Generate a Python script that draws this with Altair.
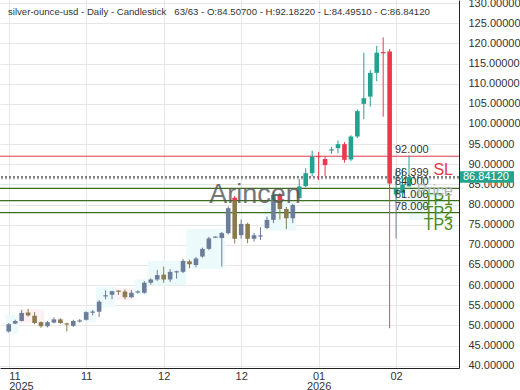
import json
import altair as alt
import numpy as np
import pandas as pd

# ---------------- data ----------------
opens = [48.5, 50.5, 51.1, 53.2, 52.4, 50.8, 49.8, 50.7, 51.5, 50.5,
         49.9, 51.0, 51.4, 53.2, 53.4, 57.2, 57.6, 58.6, 58.4, 57.0,
         58.2, 58.1, 60.6, 61.4, 62.6, 61.4, 63.2, 63.3, 65.9, 65.0,
         67.1, 69.0, 71.8, 71.7, 72.9, 81.7, 72.4, 75.2, 71.5, 72.1,
         74.2, 76.2, 82.4, 78.9, 76.6, 81.6, 84.6, 87.8, 92.0, 91.3,
         93.4, 94.0, 95.0, 91.2, 96.9, 105.0, 106.8, 112.7, 117.8, 118.0,
         82.5, 82.8, 84.507]
highs = [50.6, 51.4, 53.8, 54.1, 53.3, 51.0, 51.1, 52.0, 51.8, 50.7,
         51.4, 51.6, 53.5, 53.8, 56.3, 58.7, 58.6, 58.7, 58.9, 58.8,
         58.7, 61.0, 61.7, 63.8, 64.6, 64.0, 63.6, 66.5, 66.3, 67.0,
         69.3, 72.0, 72.1, 73.2, 79.5, 82.2, 76.3, 75.5, 73.0, 74.4,
         77.0, 83.2, 82.9, 79.4, 80.2, 86.3, 89.0, 93.4, 93.1, 92.0,
         94.3, 95.9, 95.5, 97.2, 103.6, 117.7, 113.4, 119.4, 121.5, 118.6,
         88.6, 89.0, 92.1822]
lows = [48.2, 50.3, 51.0, 52.2, 50.3, 49.4, 49.5, 50.5, 50.4, 48.5,
        49.6, 50.7, 51.2, 52.5, 52.1, 56.5, 56.5, 57.6, 56.5, 56.8,
        57.9, 57.9, 60.1, 61.0, 60.6, 60.8, 61.6, 63.0, 64.2, 64.4,
        66.8, 68.7, 71.7, 64.6, 72.6, 70.3, 71.5, 70.4, 70.8, 71.2,
        73.9, 75.4, 76.3, 73.9, 75.4, 81.2, 84.3, 87.0, 86.1, 87.0,
        92.6, 92.7, 90.4, 90.8, 96.5, 101.2, 104.3, 110.6, 101.8, 49.3,
        71.6, 81.8, 84.4951]
closes = [50.3, 51.1, 53.1, 52.5, 50.6, 49.8, 50.8, 51.5, 50.6, 50.2,
          51.1, 51.2, 53.3, 53.4, 55.9, 57.5, 58.5, 58.4, 57.0, 58.1,
          58.4, 60.6, 61.4, 62.5, 61.4, 63.3, 63.4, 66.0, 65.2, 66.6,
          69.0, 71.6, 72.0, 72.9, 79.1, 71.5, 75.2, 71.5, 72.4, 72.3,
          76.2, 82.4, 78.9, 76.6, 79.9, 84.5, 87.8, 91.9, 91.8, 89.8,
          93.7, 95.0, 91.1, 96.9, 103.2, 106.4, 112.7, 117.7, 117.6, 85.2,
          84.0, 85.0, 86.8412]

tick_idx = [0, 12, 24, 36, 48, 60]
tick_text = ["11\n2025", "11", "12", "12", "01\n2026", "02"]

# background trend zones
zone_start = [-0.5, 1.5, 11.5, 13.5, 16.5, 19.5, 21.5, 27.5, 39.5, 62.0]
zone_end = [1.5, 5.5, 13.5, 16.5, 19.5, 21.5, 27.5, 33.5, 44.5, 67.5]
zone_low = [48.0, 50.5, 50.8, 54.5, 56.3, 57.5, 60.0, 64.0, 73.5, 76.2]
zone_high = [52.5, 54.0, 54.0, 59.5, 59.2, 61.5, 66.0, 74.0, 80.5, 84.4]
zone_kind = ["zone_up", "zone_down", "zone_up", "zone_up", "zone_down",
             "zone_up", "zone_up", "zone_up", "zone_up", "zone_up"]

sl_level = 92.0
entry_level = 86.399
tp_levels = [84.0, 81.0, 78.0]
tp_names = ["TP1", "TP2", "TP3"]
MUTE_BELOW = 81.0
symbol = "silver-ounce-usd"

# ---------------- frames ----------------
n = len(opens)
df = pd.DataFrame({"i": range(n), "o": opens, "h": highs, "l": lows, "c": closes})
df["dir"] = np.where(df.c >= df.o, "up", "down")
df["btop"] = df[["o", "c"]].max(axis=1)
df["bbot"] = df[["o", "c"]].min(axis=1)
small = (df.btop - df.bbot) < 0.3
mid = (df.btop + df.bbot) / 2
df.loc[small, "btop"] = mid[small] + 0.15
df.loc[small, "bbot"] = mid[small] - 0.15


def split(lo_col, hi_col):
    rows = []
    for _, r in df.iterrows():
        lo, hi = r[lo_col], r[hi_col]
        if hi > MUTE_BELOW:
            rows.append({"i": r.i, "y1": max(lo, MUTE_BELOW), "y2": hi, "key": r.dir})
        if lo < MUTE_BELOW:
            rows.append({"i": r.i, "y1": lo, "y2": min(hi, MUTE_BELOW), "key": r.dir + "_m"})
    return pd.DataFrame(rows)


wicks = split("l", "h")
bodies = split("bbot", "btop")
zones = pd.DataFrame({"s": zone_start, "e": zone_end, "lo": zone_low,
                      "hi": zone_high, "key": zone_kind})

cscale = alt.Scale(
    domain=["up", "down", "up_m", "down_m", "zone_up", "zone_down"],
    range=["#22a38f", "#e83a4c", "#6c7d99", "#8a7a4c", "#ecfafb", "#fdf1f3"],
)
xscale = alt.Scale(domain=[-0.58, 68.97], nice=False, zero=False)
yscale = alt.Scale(domain=[39.43, 130.78], nice=False, zero=False)

label_expr = " : ".join(
    f"datum.value == {v} ? {json.dumps(t.split(chr(10)))}" for v, t in zip(tick_idx, tick_text)
) + " : ''"

FONT = "Liberation Sans"
xaxis = alt.Axis(values=tick_idx, labelExpr=label_expr, title=None, ticks=False,
                 labelPadding=2, labelFontSize=11, labelColor="#333", labelFont=FONT,
                 labelLineHeight=10, labelFlush=10, domainColor="#222",
                 gridColor="#e6e6e6", labelAngle=0)
yaxis = alt.Axis(values=list(range(40, 131, 5)), format=".5f", orient="right",
                 title=None, ticks=False, labelPadding=9, labelFontSize=11,
                 labelColor="#333", labelFont=FONT, domainColor="#222",
                 gridColor="#e6e6e6")

X = lambda f: alt.X(f, scale=xscale, axis=xaxis)
Y = lambda f: alt.Y(f, scale=yscale, axis=yaxis)
C = alt.Color("key:N", scale=cscale, legend=None)

zone_layer = alt.Chart(zones).mark_rect().encode(
    x=X("s:Q"), x2="e:Q", y=Y("lo:Q"), y2="hi:Q", color=C)

lv = lambda vals: pd.DataFrame({"v": vals})
sl_rule = alt.Chart(lv([sl_level])).mark_rule(color="#e0394a", strokeWidth=1).encode(y=Y("v:Q"))
tp_rule = alt.Chart(lv(tp_levels)).mark_rule(color="#3b6e1f", strokeWidth=1.2).encode(y=Y("v:Q"))
entry_rule = alt.Chart(lv([entry_level])).mark_rule(
    color="#999", strokeWidth=1, strokeDash=[2, 2]).encode(y=Y("v:Q"))
price_rule = alt.Chart(lv([closes[-1]])).mark_rule(
    color="#555", strokeWidth=1.5, strokeDash=[2, 2]).encode(y=Y("v:Q"))

wick_layer = alt.Chart(wicks).mark_rule(strokeWidth=1).encode(
    x=X("i:Q"), y=Y("y1:Q"), y2="y2:Q", color=C)
body_layer = alt.Chart(bodies).mark_bar(size=4.6).encode(
    x=X("i:Q"), y=Y("y1:Q"), y2="y2:Q", color=C)

all_levels = [sl_level, entry_level] + tp_levels
lvl_text = alt.Chart(pd.DataFrame({"v": all_levels})).transform_calculate(
    t="format(datum.v, '.3f')"
).mark_text(align="left", baseline="middle", dy=-6, fontSize=11, color="#333", font=FONT).encode(
    x=alt.value(395), y=Y("v:Q"), text="t:N")

sl_text = alt.Chart(pd.DataFrame({"v": [sl_level], "t": ["SL"]})).mark_text(
    align="right", baseline="middle", dy=14, fontSize=16, color="#e0394a", font=FONT
).encode(x=alt.value(453), y=Y("v:Q"), text="t:N")
tp_text = alt.Chart(pd.DataFrame({"v": tp_levels, "t": tp_names})).mark_text(
    align="right", baseline="middle", dy=12, fontSize=16, color="#4a8a22", font=FONT
).encode(x=alt.value(453), y=Y("v:Q"), text="t:N")
price_text = alt.Chart(pd.DataFrame({"v": [closes[-1]], "t": ["Price"]})).mark_text(
    align="right", baseline="middle", dy=14, fontSize=16, color="#b5b5b5", font=FONT
).encode(x=alt.value(453), y=Y("v:Q"), text="t:N")

watermark = alt.Chart(pd.DataFrame({"t": ["Arincen"]})).mark_text(
    align="center", baseline="alphabetic", fontSize=27, color="#555", opacity=0.8, font=FONT
).encode(x=alt.value(255), y=alt.value(203), text="t:N")

title_str = (f"{symbol} - Daily - Candlestick\u00a0\u00a0\u00a0{n}/{n} - O:{opens[-1]:.5f} - "
             f"H:{highs[-1]:.5f} - L:{lows[-1]:.5f} - C:{closes[-1]:.5f}")
title = alt.Chart(pd.DataFrame({"t": [title_str]})).mark_text(
    align="left", baseline="middle", fontSize=9.6, color="#333", font=FONT
).encode(x=alt.value(8), y=alt.value(12), text="t:N")

box = alt.Chart(lv([closes[-1]])).transform_calculate(
    a="datum.v + 1.45", b="datum.v - 1.45"
).mark_rect(color="#22a38f").encode(x=alt.value(460), x2=alt.value(514), y=Y("a:Q"), y2="b:Q")
box_text = alt.Chart(lv([closes[-1]])).transform_calculate(
    t="format(datum.v, '.5f')"
).mark_text(align="left", baseline="middle", fontSize=11, color="white", font=FONT).encode(
    x=alt.value(463), y=Y("v:Q"), text="t:N")

chart = alt.layer(
    zone_layer, sl_rule, tp_rule, entry_rule, price_rule, wick_layer, body_layer,
    lvl_text, sl_text, tp_text, price_text, watermark, title, box, box_text
).properties(
    width=459, height=368,
    autosize=alt.AutoSizeParams(type="none"),
    padding={"left": 0, "top": 0, "right": 61, "bottom": 22},
).configure_view(stroke=None)

chart.save("out.html", embed_options={"renderer": "svg", "actions": False})
